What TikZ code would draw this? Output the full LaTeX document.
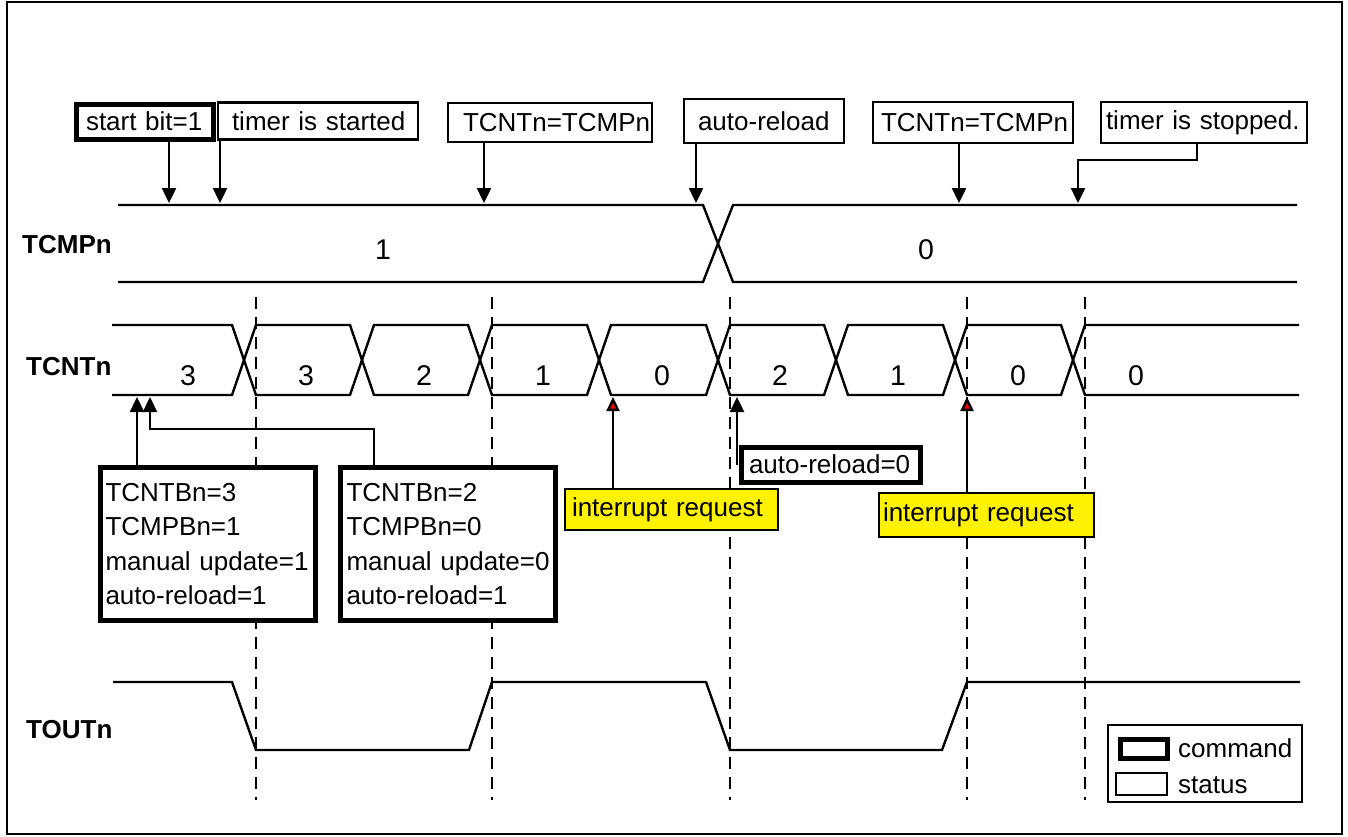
\documentclass[tikz,border=0pt]{standalone}
\usepackage{fontspec}
\setmainfont{Liberation Sans}
\usetikzlibrary{arrows.meta}
\begin{document}
\begin{tikzpicture}[x=1pt,y=-1pt,
  every node/.style={font=\fontsize{26}{34.5}\selectfont},
  wave/.style={line width=2.4pt},
  vdash/.style={line width=2.4pt, dash pattern=on 12pt off 8pt},
  statbox/.style={draw, line width=2.2pt, fill=white, inner ysep=0pt, align=left},
  cmdbox/.style={draw, line width=5pt, fill=white, inner ysep=0pt, align=left},
  irqbox/.style={draw, line width=2.2pt, fill=yellow, inner ysep=0pt, align=left},
  arr/.style={line width=2.4pt, -{Triangle[length=15pt,width=14pt]}},
  irqarr/.style={line width=2.4pt, -{Triangle[length=14pt,width=13pt,fill=red]}},
  sig/.style={font=\bfseries\fontsize{26}{30}\selectfont, anchor=west, inner sep=0pt},
  val/.style={font=\fontsize{28.5}{32}\selectfont, inner sep=0pt},
]
\useasboundingbox (0,0) rectangle (1348,836);
% frame
\draw[line width=2.4pt] (7,2) rectangle (1342,834);

% signal labels
\node[sig] (lcmp) at (22,245) {TCMPn};
\node[sig] (lcnt) at (26,367) {TCNTn};
\node[sig] (lout) at (26,730) {TOUTn};

% TCMPn waveform
\draw[wave] (118,205) -- (703,205) -- (733,282) -- (1297,282);
\draw[wave] (118,282) -- (703,282) -- (733,205) -- (1297,205);
\node[val] (m1) at (383,250) {1};
\node[val] (m0) at (926,250) {0};

% TCNTn waveform
\draw[wave] (112,325) -- (232,325) -- (256,395) -- (350,395) -- (374,325) -- (468,325) -- (492,395) -- (587,395) -- (611,325) -- (706,325) -- (730,395) -- (824,395) -- (848,325) -- (943,325) -- (967,395) -- (1061,395) -- (1085,325) -- (1299,325);
\draw[wave] (112,395) -- (232,395) -- (256,325) -- (350,325) -- (374,395) -- (468,395) -- (492,325) -- (587,325) -- (611,395) -- (706,395) -- (730,325) -- (824,325) -- (848,395) -- (943,395) -- (967,325) -- (1061,325) -- (1085,395) -- (1299,395);
\node[val] (c1) at (188,376) {3};
\node[val] (c2) at (306,376) {3};
\node[val] (c3) at (424,376) {2};
\node[val] (c4) at (543,376) {1};
\node[val] (c5) at (662,376) {0};
\node[val] (c6) at (780,376) {2};
\node[val] (c7) at (898,376) {1};
\node[val] (c8) at (1018,376) {0};
\node[val] (c9) at (1136,376) {0};

% TOUTn waveform
\draw[wave] (113,682) -- (232,682) -- (256,750) -- (469,750) -- (492,682) -- (706,682) -- (730,750) -- (942,750) -- (967,682) -- (1300,682);

% dashed verticals
\foreach \x [count=\i] in {256,492,730,967,1085}{
  \coordinate (d\i t) at (\x,297);
  \coordinate (d\i b) at (\x,800);
  \draw[vdash] (d\i t) -- (d\i b);
}

% top status/command boxes
\node[cmdbox, text width=117pt, inner xsep=10pt, minimum height=35pt] (sb) at (144.5,121.5) {\mbox{start bit=1}};
\node[statbox, text width=172pt, inner xsep=14pt, minimum height=37pt] (ts) at (318,121) {\mbox{timer is started}};
\node[statbox, text width=174pt, inner xsep=15pt, minimum height=39pt] (eq1) at (550,122.5) {\mbox{TCNTn=TCMPn}};
\node[statbox, text width=132pt, inner xsep=14pt, minimum height=44pt] (ar) at (764,121) {\mbox{auto-reload}};
\node[statbox, text width=184pt, inner xsep=8pt, minimum height=41pt] (eq2) at (973,122.5) {\mbox{TCNTn=TCMPn}};
\node[statbox, text width=196pt, inner xsep=5pt, minimum height=41pt] (tst) at (1204,122.5) {\mbox{timer is stopped.}};

% top arrows
\coordinate (t1) at (169,203);
\coordinate (t2) at (220,203);
\coordinate (t3) at (484,203);
\coordinate (t4) at (696,203);
\coordinate (t5) at (959,203);
\coordinate (t6) at (1078,203);
\coordinate (k6) at (1197,160);
\draw[arr] (sb.south -| t1) -- (t1);
\draw[arr] (ts.south -| t2) -- (t2);
\draw[arr] (eq1.south -| t3) -- (t3);
\draw[arr] (ar.south -| t4) -- (t4);
\draw[arr] (eq2.south -| t5) -- (t5);
\draw[arr] (tst.south -| k6) -- (k6) -| (t6);

% lower boxes
\node[cmdbox, text width=205pt, inner xsep=5pt, minimum height=153pt] (b1) at (208,544) {\mbox{TCNTBn=3}\\\mbox{TCMPBn=1}\\\mbox{manual update=1}\\\mbox{auto-reload=1}};
\node[cmdbox, text width=203pt, inner xsep=6pt, minimum height=153pt] (b2) at (448,544) {\mbox{TCNTBn=2}\\\mbox{TCMPBn=0}\\\mbox{manual update=0}\\\mbox{auto-reload=1}};
\node[cmdbox, text width=163pt, inner xsep=8pt, minimum height=35pt] (ar0) at (830.5,464.5) {\mbox{auto-reload=0}};
\node[irqbox, text width=199pt, inner xsep=7pt, minimum height=41pt] (ir1) at (671.5,509.5) {\mbox{interrupt request}};
\node[irqbox, text width=207pt, inner xsep=4pt, minimum height=44pt] (ir2) at (986.5,515) {\mbox{interrupt request}};

% lower arrows
\coordinate (u1) at (137,397);
\coordinate (k2) at (374,429);
\coordinate (u2) at (150,397);
\coordinate (u3) at (613,397);
\coordinate (u4) at (737,397);
\coordinate (u5) at (967,397);
\draw[arr] (b1.north -| u1) -- (u1);
\draw[arr] (b2.north -| k2) -- (k2) -| (u2);
\draw[irqarr] (ir1.north -| u3) -- (u3);
\draw[arr] (ar0.west -| u4) -- (u4);
\draw[irqarr] (ir2.north -| u5) -- (u5);

% legend
\node[statbox, minimum width=194pt, minimum height=77pt] (leg) at (1205,763.5) {};
\node[cmdbox, minimum width=47pt, minimum height=19pt, inner sep=0pt] (legc) at (1143.5,748.5) {};
\node[statbox, minimum width=51pt, minimum height=22pt, inner sep=0pt] (legs) at (1141.5,784) {};
\node[anchor=west, inner sep=0pt] (legct) at (1178,748) {command};
\node[anchor=west, inner sep=0pt] (legst) at (1178,785) {status};
\end{tikzpicture}
\end{document}
